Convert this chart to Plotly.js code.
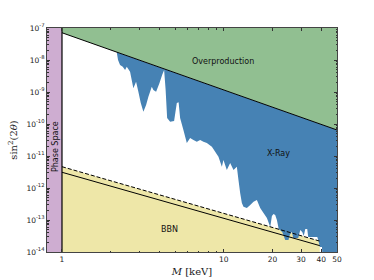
<!DOCTYPE html>
<html><head><meta charset="utf-8">
<script src="https://cdn.plot.ly/plotly-3.0.1.min.js"></script>
<style>html,body{margin:0;padding:0;background:#fff}#c{width:374px;height:280px}</style>
</head><body><div id="c"></div>
<script>
// Phase space bound (keV)
const phaseM = [0.7, 1, 1, 0.7];
const phaseS = [1e-15, 1e-15, 1e-6, 1e-6];
// Overproduction line
const overM = [1, 50];
const overS = [7.1e-8, 6.5e-11];
const overTopS = [1e-6, 1e-6];
// BBN limits
const bbnM = [1, 39.14];
const bbnSolidS = [3.10e-12, 1.58e-14];
const bbnDashS = [4.63e-12, 2.19e-14];
const bbnBottomS = [1e-15, 1e-15];
// X-ray excluded region: lower boundary, then back along overproduction line
const xrayM = [2.179, 2.220, 2.284, 2.374, 2.453, 2.513, 2.634, 2.760, 2.869, 2.964,
  3.067, 3.183, 3.308, 3.418, 3.587, 3.670, 3.814, 3.998, 4.155, 4.276,
  4.368, 4.462, 4.656, 4.927, 5.121, 5.254, 5.367, 5.626, 5.905, 6.189,
  6.486, 6.808, 7.136, 7.479, 7.851, 8.432, 8.837, 9.262, 9.719, 9.943,
  10.43, 10.94, 11.47, 12.03, 12.31, 12.61, 12.92, 13.22, 13.87, 14.55,
  15.25, 16.00, 16.77, 17.58, 18.45, 19.34, 19.81, 20.26, 20.76, 21.27,
  21.82, 22.94, 23.94, 25.08, 25.52, 26.33, 26.83, 28.81, 29.65, 30.50,
  31.16, 31.84, 32.74, 33.21, 37.76, 38.31, 39.14, 40.38, 40.55, 50, 50];
const xrayS = [1.76e-8, 1.0e-8, 6.98e-9, 6.18e-9, 4.87e-9, 6.18e-9, 4.31e-9, 1.31e-9, 2.10e-9, 1.02e-9,
  4.53e-10, 2.42e-10, 3.92e-10, 7.13e-10, 1.47e-9, 1.15e-9, 1.02e-9, 1.87e-9, 3.40e-9, 4.87e-9,
  1.15e-9, 1.54e-10, 1.18e-10, 1.24e-10, 4.53e-10, 4.8e-10, 1.54e-10, 6.49e-11, 2.55e-11, 3.65e-11,
  3.16e-11, 2.80e-11, 3.16e-11, 2.80e-11, 2.55e-11, 1.95e-11, 1.36e-11, 9.51e-12, 4.63e-12, 7.50e-12,
  3.65e-12, 6.04e-12, 3.65e-12, 4.63e-12, 1.78e-12, 6.98e-13, 3.40e-13, 2.61e-13, 2.37e-13, 2.94e-13,
  3.73e-13, 4.22e-13, 2.37e-13, 1.66e-13, 1.15e-13, 6.04e-14, 1.33e-13, 1.54e-13, 1.43e-13, 1.0e-13,
  5.24e-14, 4.22e-14, 2.37e-14, 2.37e-14, 3.40e-14, 4.31e-14, 2.74e-14, 2.74e-14, 4.87e-14, 4.22e-14,
  3.16e-14, 5.24e-14, 5.24e-14, 2.94e-14, 2.94e-14, 2.37e-14, 1.43e-14, 1.43e-14, 9e-15, 9e-15, 6.5e-11];

const xTickVals = [1, 10, 20, 30, 40, 50];
const xTickText = ['1', '10', '20', '30', '40', '50'];
const xMinorVals = [2, 3, 4, 5, 6, 7, 8, 9];
const yTickVals = [1e-14,1e-13,1e-12,1e-11,1e-10,1e-9,1e-8,1e-7];
const yTickText = ['10<sup>-14</sup>','10<sup>-13</sup>','10<sup>-12</sup>','10<sup>-11</sup>','10<sup>-10</sup>','10<sup>-9</sup>','10<sup>-8</sup>','10<sup>-7</sup>'];
const yMinor = [];
for (let e = -14; e < -7; e++) for (let k = 2; k <= 9; k++) yMinor.push(k * Math.pow(10, e));

const green = 'rgb(145,191,145)', blue = 'rgb(70,130,180)', yellow = 'rgb(238,231,168)', purple = 'rgb(206,173,209)';

const traces = [
  {x: overM.concat(overM.slice().reverse()), y: overS.concat(overTopS), fill: 'toself', fillcolor: green, mode: 'none', type: 'scatter', hoverinfo: 'skip'},
  {x: bbnM.concat(bbnM.slice().reverse()), y: bbnDashS.concat(bbnBottomS), fill: 'toself', fillcolor: yellow, mode: 'none', type: 'scatter', hoverinfo: 'skip'},
  {x: xrayM, y: xrayS, fill: 'toself', fillcolor: blue, mode: 'none', type: 'scatter', hoverinfo: 'skip'},
  {x: phaseM, y: phaseS, fill: 'toself', fillcolor: purple, mode: 'none', type: 'scatter', hoverinfo: 'skip'},
  {x: overM, y: overS, mode: 'lines', line: {color: '#000', width: 1}, type: 'scatter'},
  {x: bbnM, y: bbnSolidS, mode: 'lines', line: {color: '#000', width: 1}, type: 'scatter'},
  {x: bbnM, y: bbnDashS, mode: 'lines', line: {color: '#000', width: 1, dash: '4px,2px'}, type: 'scatter'},
  {x: [phaseM[1], phaseM[2]], y: [phaseS[1], phaseS[2]], mode: 'lines', line: {color: '#000', width: 1.2}, type: 'scatter'}
];

const tickFont = {family: 'DejaVu Sans', size: 7.5, color: '#222'};
const lblFont = {family: 'DejaVu Sans', size: 8, color: '#111'};
const layout = {
  width: 374, height: 280,
  margin: {l: 47, r: 37, t: 28, b: 28},
  paper_bgcolor: '#fff', plot_bgcolor: '#fff',
  showlegend: false,
  xaxis: {
    type: 'log', range: [Math.log10(0.808), Math.log10(50)],
    tickvals: xTickVals, ticktext: xTickText, ticks: 'inside', ticklen: 3, tickcolor: '#333',
    minor: {tickvals: xMinorVals, ticks: 'inside', ticklen: 1.5, tickcolor: '#333', showgrid: false},
    showline: true, linecolor: '#444', linewidth: 1, mirror: 'ticks', showgrid: false, zeroline: false,
    tickfont: tickFont,
    title: {text: '<i>M</i> [keV]', font: {family: 'DejaVu Serif', size: 10, color: '#222'}, standoff: 4}
  },
  yaxis: {
    type: 'log', range: [-14, -7],
    tickvals: yTickVals, ticktext: yTickText, ticks: 'inside', ticklen: 3, tickcolor: '#333',
    showline: true, linecolor: '#444', linewidth: 1, mirror: 'ticks', showgrid: false, zeroline: false,
    minor: {tickvals: yMinor, ticks: 'inside', ticklen: 1.5, tickcolor: '#333', showgrid: false},
    tickfont: tickFont,
    title: {text: 'sin<sup>2</sup>(2<i>θ</i>)', font: {family: 'DejaVu Serif', size: 10, color: '#222'}, standoff: 6}
  },
  annotations: [
    {x: Math.log10(9.9), y: Math.log10(8.85e-9), xref: 'x', yref: 'y', text: 'Overproduction', showarrow: false, font: lblFont},
    {x: Math.log10(21.7), y: Math.log10(1.21e-11), xref: 'x', yref: 'y', text: 'X-Ray', showarrow: false, font: lblFont},
    {x: Math.log10(4.59), y: Math.log10(5.13e-14), xref: 'x', yref: 'y', text: 'BBN', showarrow: false, font: lblFont},
    {x: Math.log10(0.905), y: Math.log10(2.04e-11), xref: 'x', yref: 'y', text: 'Phase Space', textangle: -90, showarrow: false, font: lblFont}
  ]
};
Plotly.newPlot('c', traces, layout, {staticPlot: true, displayModeBar: false});
</script></body></html>
